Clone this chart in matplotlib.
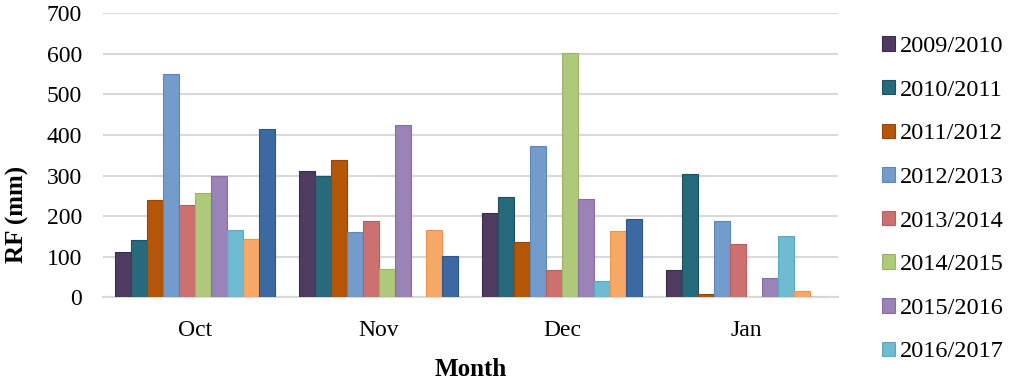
import numpy as np
import matplotlib
matplotlib.use("Agg")
import matplotlib.pyplot as plt

# Monthly rainfall (mm) per season
months = ["Oct", "Nov", "Dec", "Jan"]
seasons = ["2009/2010", "2010/2011", "2011/2012", "2012/2013", "2013/2014",
           "2014/2015", "2015/2016", "2016/2017", "2017/2018", "2018/2019"]
rf_2009 = [112, 311, 207, 67]
rf_2010 = [140, 300, 248, 303]
rf_2011 = [241, 338, 136, 7]
rf_2012 = [550, 160, 372, 187]
rf_2013 = [227, 187, 67, 131]
rf_2014 = [256, 69, 602, 1]
rf_2015 = [300, 424, 242, 47]
rf_2016 = [166, 0, 40, 152]
rf_2017 = [143, 165, 163, 16]
rf_2018 = [414, 101, 194, 0]
series = [rf_2009, rf_2010, rf_2011, rf_2012, rf_2013,
          rf_2014, rf_2015, rf_2016, rf_2017, rf_2018]

colors = ["#4F3B62", "#276A7B", "#B55609", "#739BCB", "#CC7170",
          "#AFC97B", "#9A83B6", "#6FBBD2", "#F8A866", "#3C69A0"]
edges = ["#3B2B4C", "#1D5060", "#9A4600", "#5F88BA", "#B85F5E",
         "#9AB565", "#8670A3", "#5BA8BF", "#E69552", "#2B5690"]

plt.rcParams["font.family"] = ["Liberation Serif", "DejaVu Serif"]

fig = plt.figure(figsize=(10.13, 3.79), dpi=100)
ax = fig.add_axes([0.1017, 0.2156, 0.7253, 0.7494])

x = np.arange(len(months))
n = len(series)
w = 0.087
bars = []
for i, vals in enumerate(series):
    b = ax.bar(x + (i - (n - 1) / 2) * w, vals, width=w, color=colors[i],
               edgecolor=edges[i], linewidth=0.8, label=seasons[i], zorder=3)
    bars.append(b)

ax.set_xlim(-0.5, len(months) - 0.5)
ax.set_ylim(0, 700)
ax.set_yticks(range(0, 701, 100))
ax.set_xticks(x)
ax.set_xticklabels(months)
ax.tick_params(axis="both", length=0, labelsize=17)
ax.tick_params(axis="x", pad=16.5)
ax.tick_params(axis="y", pad=15)
ax.yaxis.grid(True, color="#D9D9D9", linewidth=1.5, zorder=0)
for s in ["top", "right", "left"]:
    ax.spines[s].set_visible(False)
ax.spines["bottom"].set_color("#D9D9D9")
ax.spines["bottom"].set_linewidth(1.5)

ax.set_ylabel("RF (mm)", fontsize=18, fontweight="bold", labelpad=13)
ax.yaxis.label.set_y(0.29)
ax.set_xlabel("Month", fontsize=18, fontweight="bold", labelpad=12)

# legend runs past the bottom edge in the original; only 8 entries fit
leg = fig.legend(handles=bars[:8], loc="upper left", bbox_to_anchor=(0.861, 0.93),
                 frameon=False, fontsize=17.5, handlelength=0.54, handleheight=0.54,
                 handletextpad=0.2, labelspacing=0.93, borderaxespad=0)

plt.savefig("out.png", dpi=100)
